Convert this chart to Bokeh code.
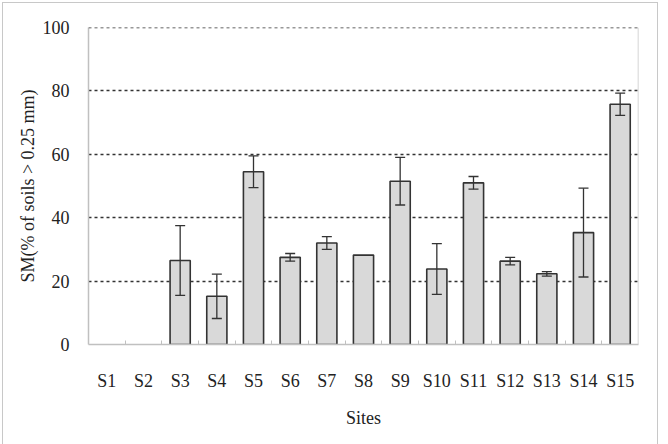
import numpy as np
from bokeh.plotting import figure
from bokeh.models import ColumnDataSource, Whisker, FixedTicker, Range1d, Span
from bokeh.embed import file_html
from bokeh.resources import INLINE

sites = ["S1", "S2", "S3", "S4", "S5", "S6", "S7", "S8", "S9", "S10", "S11", "S12", "S13", "S14", "S15"]
sm = [0, 0, 26.5, 15.2, 54.5, 27.5, 32.0, 28.2, 51.5, 23.8, 51.0, 26.3, 22.3, 35.3, 75.8]
err = [0, 0, 11.0, 7.0, 5.0, 1.2, 2.0, 0, 7.5, 8.0, 2.0, 1.2, 0.7, 14.0, 3.5]
y_ticks = [0, 20, 40, 60, 80, 100]

FONT = "Liberation Serif"
TXT = "#222222"

xpos = [i + 0.5 for i in range(len(sites))]
bx = [x for x, v in zip(xpos, sm) if v > 0]
bt = [v for v in sm if v > 0]
src = ColumnDataSource(dict(x=bx, top=bt))
wx = [x for x, e in zip(xpos, err) if e > 0]
wl = [v - e for v, e in zip(sm, err) if e > 0]
wu = [v + e for v, e in zip(sm, err) if e > 0]
wsrc = ColumnDataSource(dict(x=wx, lower=wl, upper=wu))

p = figure(width=656, height=450, output_backend="svg", toolbar_location=None,
           x_range=Range1d(0, len(sites)), y_range=Range1d(0, y_ticks[-1]),
           min_border_left=85, min_border_top=24, min_border_right=21, min_border_bottom=109,
           styles={"border": "1px solid #c8c8c8", "margin": "2px 0 0 2px"})

p.vbar(x="x", top="top", width=0.55, bottom=0, source=src,
       fill_color="#d9d9d9", line_color="#333333", line_width=1.6)

wh = Whisker(base="x", lower="lower", upper="upper", source=wsrc,
             line_color="#333333", line_width=1.3, level="overlay")
for head in (wh.upper_head, wh.lower_head):
    head.size = 10
    head.line_color = "#333333"
    head.line_width = 1.3
p.add_layout(wh)

p.outline_line_color = None
p.add_layout(Span(location=len(sites), dimension="height", line_color="#c8c8c8", line_width=1.5))
p.add_layout(Span(location=y_ticks[-1], dimension="width", line_color="#333333",
                  line_width=1.5, line_dash="3 3"))

# x axis
p.xaxis.ticker = FixedTicker(ticks=xpos, minor_ticks=list(range(1, len(sites))))
p.xaxis.major_label_overrides = {x: s for x, s in zip(xpos, sites)}
p.xaxis.major_tick_line_color = None
p.xaxis.minor_tick_in = 4
p.xaxis.minor_tick_out = 0
p.xaxis.minor_tick_line_color = "#c0c0c0"
p.xaxis.axis_line_color = "#c0c0c0"
p.xaxis.axis_line_width = 1.5
p.xaxis.axis_label = "Sites"
p.xaxis.major_label_standoff = 20
p.xaxis.axis_label_standoff = 14

# y axis
p.yaxis.ticker = FixedTicker(ticks=y_ticks)
p.yaxis.major_tick_line_color = None
p.yaxis.minor_tick_line_color = None
p.yaxis.axis_line_color = "#c0c0c0"
p.yaxis.axis_line_width = 1.5
p.yaxis.axis_label = "SM(% of soils > 0.25 mm)"
p.yaxis.major_label_standoff = 13
p.yaxis.axis_label_standoff = 2

for ax in (p.xaxis, p.yaxis):
    ax.major_label_text_font = FONT
    ax.major_label_text_font_size = "18px"
    ax.major_label_text_color = TXT
    ax.axis_label_text_font = FONT
    ax.axis_label_text_font_size = "18px"
    ax.axis_label_text_font_style = "normal"
    ax.axis_label_text_color = TXT

p.xgrid.grid_line_color = None
p.ygrid.grid_line_color = "#333333"
p.ygrid.grid_line_dash = "3 3"
p.ygrid.grid_line_width = 1.5

open("out.html", "w").write(file_html(p, INLINE))
